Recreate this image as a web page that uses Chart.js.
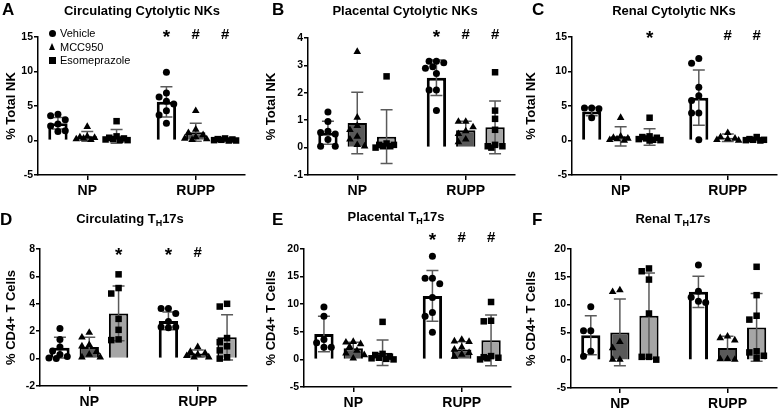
<!DOCTYPE html>
<html>
<head>
<meta charset="utf-8">
<script src="https://cdn.jsdelivr.net/npm/chart.js@4.4.1/dist/chart.umd.min.js"></script>
<style>
  body { margin: 0; width: 781px; height: 408px; position: relative; overflow: hidden; background: #fff;
         font-family: 'Liberation Sans', Arial, sans-serif; color: #000; }
  .panel { position: absolute; }
  .letter { position: absolute; font-weight: bold; font-size: 17px; line-height: 1; }
  .title { position: absolute; font-weight: bold; font-size: 13px; line-height: 1; white-space: nowrap;
           transform: translate(-50%, -50%); }
  .title sub { font-size: 9px; vertical-align: -3px; }
  .leg { position: absolute; font-size: 11px; line-height: 1; transform: translateY(-50%); white-space: nowrap; }
  .sym { position: absolute; background: #000; }
</style>
</head>
<body>

<div class="panel" style="left:0px;top:0px"><canvas id="cA" width="260" height="200"></canvas></div>
<div class="panel" style="left:260px;top:0px"><canvas id="cB" width="260" height="200"></canvas></div>
<div class="panel" style="left:520px;top:0px"><canvas id="cC" width="261" height="200"></canvas></div>
<div class="panel" style="left:0px;top:200px"><canvas id="cD" width="260" height="208"></canvas></div>
<div class="panel" style="left:260px;top:200px"><canvas id="cE" width="260" height="208"></canvas></div>
<div class="panel" style="left:520px;top:200px"><canvas id="cF" width="261" height="208"></canvas></div>

<div class="letter" style="left:2px;top:1px">A</div>
<div class="letter" style="left:272px;top:1px">B</div>
<div class="letter" style="left:532px;top:1px">C</div>
<div class="letter" style="left:0px;top:211px">D</div>
<div class="letter" style="left:272px;top:211px">E</div>
<div class="letter" style="left:532px;top:211px">F</div>

<div class="title" style="left:142px;top:10px">Circulating Cytolytic NKs</div>
<div class="title" style="left:405px;top:10px">Placental Cytolytic NKs</div>
<div class="title" style="left:674px;top:10px">Renal Cytolytic NKs</div>
<div class="title" style="left:130px;top:220px">Circulating T<sub>H</sub>17s</div>
<div class="title" style="left:396px;top:218px">Placental T<sub>H</sub>17s</div>
<div class="title" style="left:673px;top:220px">Renal T<sub>H</sub>17s</div>

<!-- legend (panel A) -->
<div class="sym" style="left:49px;top:30px;width:7px;height:7px;border-radius:50%"></div>
<div class="sym" style="left:49px;top:43px;width:0;height:0;background:none;border-left:3.5px solid transparent;border-right:3.5px solid transparent;border-bottom:7px solid #000"></div>
<div class="sym" style="left:49px;top:57px;width:7px;height:7px"></div>
<div class="leg" id="leg0" style="left:60px;top:33px"></div>
<div class="leg" id="leg1" style="left:60px;top:47px"></div>
<div class="leg" id="leg2" style="left:60px;top:60px"></div>

<script>
const groups = ['NP', 'RUPP'];
const treatments = ['Vehicle', 'MCC950', 'Esomeprazole'];

// bar order: NP Vehicle, NP MCC950, NP Esomeprazole, RUPP Vehicle, RUPP MCC950, RUPP Esomeprazole

// A - Circulating Cytolytic NKs
const aMean = [2.5, 0.6, 0.6, 5.6, 1.2, 0.1];
const aSd = [0.85, 0.7, 1.0, 2.2, 1.3, 0.15];
const aPoints = [
  [3.8, 3.6, 3.0, 2.4, 2.1, 1.4, 1.3],
  [2.0, 0.6, 0.5, 0.4, 0.3, 0.2, 0.1],
  [2.8, 0.6, 0.4, 0.3, 0.2, 0.15, 0.1, 0.05],
  [9.9, 6.9, 6.3, 5.7, 5.3, 4.3, 3.7, 2.5],
  [4.3, 1.6, 1.1, 0.8, 0.5, 0.3, 0.2, 0.1],
  [0.3, 0.2, 0.15, 0.1, 0.05, 0.0, 0.0]
];
const aMarks = ['', '', '', '*', '#', '#'];

// B - Placental Cytolytic NKs
const bMean = [0.54, 0.9, 0.4, 2.55, 0.63, 0.74];
const bSd = [0.42, 1.12, 0.98, 0.65, 0.33, 0.96];
const bPoints = [
  [1.3, 0.95, 0.6, 0.55, 0.5, 0.3, 0.05, 0.05],
  [3.5, 1.1, 0.8, 0.65, 0.4, 0.3, 0.1, 0.05],
  [2.6, 0.15, 0.1, 0.1, 0.05, 0.05, 0.0],
  [3.15, 3.15, 3.1, 2.95, 2.9, 2.7, 2.1, 2.1, 1.35],
  [0.95, 0.95, 0.75, 0.6, 0.5, 0.3, 0.2],
  [2.75, 1.35, 1.05, 0.65, 0.1, 0.05, 0.05, 0.0]
];
const bMarks = ['', '', '', '*', '#', '#'];

// C - Renal Cytolytic NKs
const cMean = [4.2, 0.6, 0.5, 6.2, 0.4, 0.2];
const cSd = [0.6, 1.4, 1.2, 4.0, 0.55, 0.2];
const cPoints = [
  [4.7, 4.7, 4.6, 3.3],
  [3.3, 0.6, 0.4, 0.3, 0.2, 0.1, 0.0],
  [3.3, 0.6, 0.5, 0.4, 0.3, 0.2, 0.1, 0.05, 0.0],
  [11.9, 11.2, 7.7, 6.5, 5.8, 4.0, 4.0, 0.1],
  [1.1, 0.5, 0.3, 0.2, 0.1, 0.0],
  [0.5, 0.2, 0.1, 0.1, 0.05, 0.0]
];
const cMarks = ['', '', '*', '', '#', '#'];

// D - Circulating TH17s
const dMean = [0.8, 0.85, 3.3, 2.75, 0.37, 1.55];
const dSd = [0.75, 0.7, 2.0, 0.65, 0.25, 1.65];
const dPoints = [
  [2.2, 1.4, 0.85, 0.55, 0.3, 0.15, 0.05, 0.0],
  [1.9, 1.55, 1.0, 0.9, 0.5, 0.3, 0.1, 0.1],
  [6.15, 5.15, 4.75, 2.9, 2.1, 1.4, 1.35],
  [3.65, 3.65, 3.3, 2.7, 2.3, 2.3, 2.25],
  [0.85, 0.5, 0.4, 0.3, 0.2, 0.1, 0.1],
  [4.0, 3.8, 1.5, 1.2, 0.9, 0.6, 0.1, 0.0]
];
const dMarks = ['', '', '*', '*', '#', ''];

// E - Placental TH17s
const eMean = [4.6, 2.0, 1.2, 11.5, 1.8, 3.45];
const eSd = [3.2, 1.1, 2.3, 4.6, 1.4, 4.6];
const ePoints = [
  [9.5, 7.8, 3.6, 3.0, 2.2, 2.2],
  [3.2, 3.1, 2.8, 2.3, 1.6, 1.1, 0.8, 0.2],
  [6.8, 1.0, 0.8, 0.5, 0.3, 0.2, 0.1, 0.0],
  [18.7, 14.7, 14.7, 13.7, 11.2, 8.5, 7.8, 4.9],
  [3.6, 3.3, 3.2, 2.2, 1.8, 1.2, 0.9, 0.5],
  [10.4, 7.0, 6.9, 0.6, 0.4, 0.3, 0.2, 0.0]
];
const eMarks = ['', '', '', '*', '#', '#'];

// F - Renal TH17s
const fMean = [4.5, 5.0, 8.0, 12.3, 2.2, 5.9];
const fSd = [3.5, 6.0, 7.7, 2.8, 2.1, 6.1];
const fPoints = [
  [9.6, 5.3, 5.3, 1.6, 0.7],
  [12.6, 12.3, 3.3, 2.2, 0.1, 0.1],
  [16.5, 16.0, 14.5, 8.4, 0.6, 0.6, 0.1],
  [17.1, 12.4, 11.3, 10.6, 10.4],
  [4.3, 4.0, 3.6, 0.2, 0.2, 0.1],
  [16.8, 11.7, 8.0, 7.3, 1.6, 1.4, 0.8, 0.4]
];
const fMarks = ['', '', '', '', '', ''];

// layout: bar slots on a linear x axis, group label positions
const barX = [1, 2, 3, 4.7, 5.7, 6.7];
const groupX = [2, 5.7];
const xMin = 0.32, xMax = 7.38;
const plotW = 207;
const fills = ['#ffffff', '#595959', '#a6a6a6'];
const shapes = ['circle', 'triangle', 'rect'];
const radii = [3.5, 4.4, 4.6];

treatments.forEach((t, i) => { document.getElementById('leg' + i).textContent = t; });

Chart.defaults.font.family = "'Liberation Sans', Arial, sans-serif";
Chart.defaults.color = '#000';

const panels = [
  { id: 'cA', mean: aMean, sd: aSd, points: aPoints, marks: aMarks, yMin: -5, yMax: 15, step: 5,
    yTitle: '% Total NK', w: 260, h: 200, left: 38, top: 37, bottom: 175, markY: 15.3 },
  { id: 'cB', mean: bMean, sd: bSd, points: bPoints, marks: bMarks, yMin: -1, yMax: 4, step: 1,
    yTitle: '% Total NK', w: 260, h: 200, left: 48, top: 38, bottom: 175, markY: 4.12 },
  { id: 'cC', mean: cMean, sd: cSd, points: cPoints, marks: cMarks, yMin: -5, yMax: 15, step: 5,
    yTitle: '% Total NK', w: 261, h: 200, left: 52, top: 37, bottom: 175, markY: 15.2 },
  { id: 'cD', mean: dMean, sd: dSd, points: dPoints, marks: dMarks, yMin: -2, yMax: 8, step: 2,
    yTitle: '% CD4+ T Cells', w: 260, h: 208, left: 40, top: 49, bottom: 186, markY: 7.7 },
  { id: 'cE', mean: eMean, sd: eSd, points: ePoints, marks: eMarks, yMin: -5, yMax: 20, step: 5,
    yTitle: '% CD4+ T Cells', w: 260, h: 208, left: 44, top: 49, bottom: 187, markY: 22 },
  { id: 'cF', mean: fMean, sd: fSd, points: fPoints, marks: fMarks, yMin: -5, yMax: 20, step: 5,
    yTitle: '% CD4+ T Cells', w: 261, h: 208, left: 51, top: 49, bottom: 188, markY: 21 }
];

// spread dots sideways when they would overlap (simple beeswarm)
function swarm(values, cx, pxX, pxY) {
  const slots = [0, -0.25, 0.25, -0.125, 0.125, -0.375, 0.375];
  const placed = [];
  values.forEach(v => {
    let best = 0, bestD = -1;
    for (const s of slots) {
      let dmin = Infinity;
      placed.forEach(q => {
        dmin = Math.min(dmin, Math.hypot((s - q.off) * pxX, (v - q.y) * pxY));
      });
      if (dmin >= 7) { best = s; break; }
      if (dmin > bestD) { bestD = dmin; best = s; }
    }
    placed.push({ off: best, y: v });
  });
  return placed.map(q => ({ x: cx + q.off, y: q.y }));
}

const errorBars = {
  id: 'errorBars',
  afterDatasetDraw(chart, args) {
    if (args.index !== 0) return;
    const ds = chart.data.datasets[0];
    const { ctx, scales: { x, y } } = chart;
    ctx.save();
    ctx.strokeStyle = '#5a5a5a';
    ctx.lineWidth = 1.5;
    ds.data.forEach((d, i) => {
      const px = x.getPixelForValue(d.x);
      const hi = y.getPixelForValue(d.y + ds.errors[i]);
      const lo = y.getPixelForValue(d.y - ds.errors[i]);
      ctx.beginPath();
      ctx.moveTo(px, hi); ctx.lineTo(px, lo);
      ctx.moveTo(px - 6, hi); ctx.lineTo(px + 6, hi);
      ctx.moveTo(px - 6, lo); ctx.lineTo(px + 6, lo);
      ctx.stroke();
    });
    ctx.restore();
  },
  afterDatasetsDraw(chart) {
    const ds = chart.data.datasets[0];
    const { ctx, scales: { x, y } } = chart;
    ctx.save();
    ctx.fillStyle = '#000';
    ctx.textAlign = 'center';
    ctx.textBaseline = 'middle';
    ds.marks.forEach((m, i) => {
      if (!m) return;
      const px = x.getPixelForValue(barX[i]);
      const py = y.getPixelForValue(ds.markY);
      if (m === '*') {
        ctx.font = "bold 19px 'Liberation Sans', Arial, sans-serif";
        ctx.fillText(m, px, py + 3);
      } else {
        ctx.font = "bold 15px 'Liberation Sans', Arial, sans-serif";
        ctx.fillText(m, px, py);
      }
    });
    ctx.restore();
  }
};

panels.forEach(p => {
  const pxX = plotW / (xMax - xMin);
  const pxY = (p.bottom - p.top) / (p.yMax - p.yMin);
  const dots = [[], [], []];
  p.points.forEach((vals, i) => {
    dots[i % 3].push(...swarm(vals, barX[i], pxX, pxY));
  });

  const datasets = [{
    type: 'bar',
    data: p.mean.map((m, i) => ({ x: barX[i], y: m })),
    errors: p.sd,
    marks: p.marks,
    markY: p.markY,
    backgroundColor: p.mean.map((m, i) => fills[i % 3]),
    borderColor: '#000',
    borderWidth: p.mean.map((m, i) => i % 3 === 0 ? 3 : 2),
    barPercentage: 0.66,
    categoryPercentage: 1,
    order: 2
  }];
  treatments.forEach((t, k) => {
    datasets.push({
      type: 'scatter',
      label: t,
      data: dots[k],
      pointStyle: shapes[k],
      pointRadius: radii[k],
      backgroundColor: '#000',
      borderColor: '#000',
      borderWidth: 0,
      clip: false,
      order: 1
    });
  });

  new Chart(document.getElementById(p.id), {
    type: 'bar',
    data: { datasets },
    options: {
      responsive: false,
      animation: false,
      layout: { padding: { top: p.top, left: 0, bottom: 0, right: p.w - p.left - plotW } },
      plugins: { legend: { display: false }, tooltip: { enabled: false } },
      scales: {
        x: {
          type: 'linear',
          min: xMin,
          max: xMax,
          offset: false,
          grid: { offset: false, drawOnChartArea: false, drawTicks: true, tickLength: 5, color: '#000', lineWidth: 1.5 },
          border: { display: true, color: '#000', width: 1.5 },
          afterBuildTicks: s => { s.ticks = groupX.map(v => ({ value: v })); },
          afterFit: s => { s.height = p.h - p.bottom; },
          ticks: {
            autoSkip: false,
            maxRotation: 0,
            padding: 3,
            font: { size: 14, weight: 'bold' },
            callback: (v, i) => groups[i]
          }
        },
        y: {
          min: p.yMin,
          max: p.yMax,
          grid: { drawOnChartArea: false, drawTicks: true, tickLength: 4, color: '#000', lineWidth: 1.5 },
          border: { display: true, color: '#000', width: 1.5 },
          afterFit: s => { s.width = p.left; },
          ticks: { stepSize: p.step, padding: 1, font: { size: 10.5, weight: 'bold' } },
          title: { display: true, text: p.yTitle, font: { size: 13, weight: 'bold' }, padding: { top: 4, bottom: 2 } }
        }
      }
    },
    plugins: [errorBars]
  });
});
</script>
</body>
</html>
